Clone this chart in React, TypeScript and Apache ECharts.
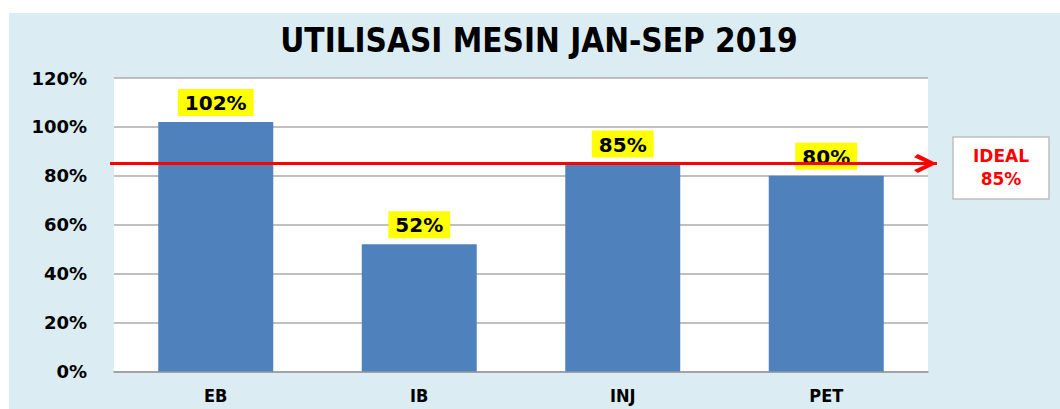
import React, { useEffect, useRef } from "react";
import * as echarts from "echarts";

const TITLE = "UTILISASI MESIN JAN-SEP 2019";
const categories = ["EB", "IB", "INJ", "PET"];
const utilisation = [102, 52, 85, 80];
const IDEAL = 85;
const yTicks = { min: 0, max: 120, interval: 20 };

const CHEVRON =
  "path://M9,0 L9.01,0 L9,0.01 Z M9,22 L18,40.5 L15,44 L9,30.5 L3,44 L0,40.5 Z";

export default function App() {
  const ref = useRef<HTMLDivElement>(null);
  useEffect(() => {
    document.body.style.margin = "0";
    const chart = echarts.init(ref.current!, null, { renderer: "svg" });
    chart.setOption({
      animation: false,
      backgroundColor: "#ffffff",
      graphic: [
        {
          type: "rect",
          z: -10,
          silent: true,
          shape: { x: 9, y: 13, width: 1051, height: 396 },
          style: { fill: "#dbedf3" },
        },
        {
          type: "group",
          x: 953,
          y: 137,
          children: [
            {
              type: "rect",
              shape: { x: 0, y: 0, width: 96, height: 62 },
              style: { fill: "#ffffff", stroke: "#bfbfbf", lineWidth: 1.5 },
            },
            {
              type: "text",
              x: 48,
              y: 19,
              style: {
                text: "IDEAL",
                fill: "#ff0000",
                font: "bold 17px 'DejaVu Sans'",
                align: "center",
                verticalAlign: "middle",
              },
            },
            {
              type: "text",
              x: 48,
              y: 42,
              style: {
                text: IDEAL + "%",
                fill: "#ff0000",
                font: "bold 17px 'DejaVu Sans'",
                align: "center",
                verticalAlign: "middle",
              },
            },
          ],
        },
      ],
      title: {
        text: TITLE,
        left: 534,
        textAlign: "center",
        top: 19,
        textStyle: {
          fontFamily: "'DejaVu Sans Condensed', 'Liberation Sans Narrow', sans-serif",
          fontWeight: "bold",
          fontSize: 33,
          color: "#000000",
        },
      },
      grid: {
        left: 114,
        right: 132,
        top: 78,
        bottom: 37.5,
        show: true,
        backgroundColor: "#ffffff",
        borderWidth: 0,
      },
      xAxis: {
        type: "category",
        data: categories,
        axisLine: { show: true, lineStyle: { color: "#9a9a9a", width: 1.5 } },
        axisTick: { show: false },
        axisLabel: {
          margin: 15,
          fontFamily: "'DejaVu Sans Condensed', 'Liberation Sans Narrow', sans-serif",
          fontWeight: "bold",
          fontSize: 18,
          color: "#000000",
        },
      },
      yAxis: {
        type: "value",
        min: yTicks.min,
        max: yTicks.max,
        interval: yTicks.interval,
        axisLine: { show: false },
        axisTick: { show: false },
        splitLine: { lineStyle: { color: "#ababab", width: 1.5 } },
        axisLabel: {
          formatter: "{value}%",
          margin: 27,
          fontFamily: "'DejaVu Sans', Verdana, sans-serif",
          fontWeight: "bold",
          fontSize: 18,
          color: "#000000",
        },
      },
      series: [
        {
          type: "bar",
          data: utilisation,
          barWidth: 115,
          itemStyle: { color: "#4f81bd" },
          label: {
            show: true,
            position: "top",
            distance: 6,
            formatter: "{c}%",
            fontFamily: "'DejaVu Sans', Verdana, sans-serif",
            fontWeight: "bold",
            fontSize: 20,
            color: "#000000",
            backgroundColor: "#ffff00",
            padding: [4, 7, 3, 7],
          },
          markLine: {
            silent: true,
            symbol: ["none", CHEVRON],
            symbolSize: [19, 46],
            lineStyle: { color: "#ff0000", width: 3, type: "solid" },
            label: { show: false },
            emphasis: { disabled: true },
            data: [[{ x: 110, yAxis: IDEAL }, { x: 937, yAxis: IDEAL }]],
          },
        },
      ],
    });
    return () => chart.dispose();
  }, []);
  return <div ref={ref} style={{ width: 1060, height: 409 }} />;
}
